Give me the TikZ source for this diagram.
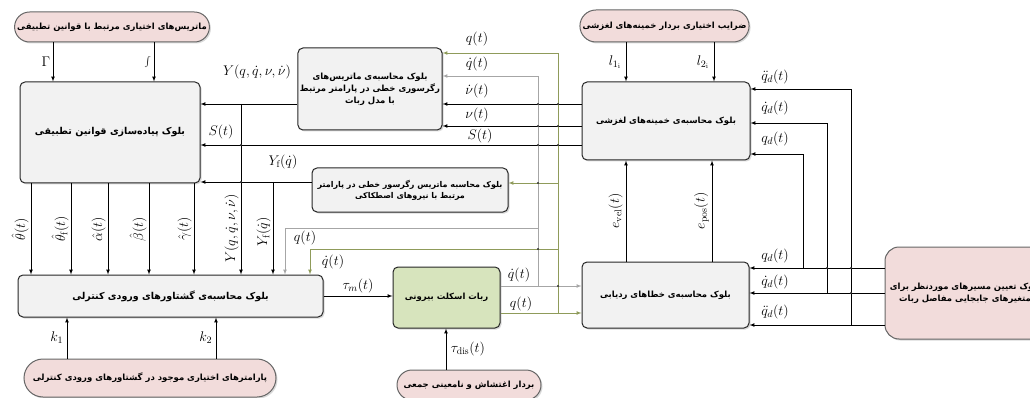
\RequirePackage{fix-cm}
\documentclass[tikz,border=0pt]{standalone}
\usepackage{fontspec}
\usepackage{xcolor}
\usepackage{tikz}
\usetikzlibrary{arrows,shapes,shadows,positioning}
\TeXXeTstate=1
\newfontfamily\fafont[Script=Arabic]{DejaVu Sans}
\newcommand{\faline}[1]{\beginR #1\endR}
\definecolor{pinkfill}{HTML}{F2DCDB}
\definecolor{grayfill}{HTML}{F2F2F2}
\definecolor{robotfill}{HTML}{D7E4BD}
\definecolor{oliveline}{RGB}{143,155,90}
\definecolor{grayline}{RGB}{166,166,166}

\begin{document}
\begin{tikzpicture}[x=1pt, y=-1pt, >=latex,
  box/.style={draw=black!85, line width=1pt, align=center, inner sep=2pt,
              font=\fafont\bfseries\fontsize{8.5}{12}\selectfont,
              drop shadow={shadow xshift=1.5pt, shadow yshift=-1.5pt, opacity=.3}},
  pill/.style={box, rounded rectangle, draw=black!60, fill=pinkfill},
  blk/.style={box, rectangle, rounded corners=5pt, fill=grayfill},
  bigtext/.style={font=\fafont\bfseries\fontsize{9.5}{12}\selectfont},
  lbl/.style={inner sep=0.5pt, font=\fontsize{14}{16}\selectfont},
  wire/.style={->, line width=0.7pt},
  hop/.style={fill=black!80}]

\useasboundingbox (0,0) rectangle (1030,398);

% inputs chosen by the designer
\node (mats) [pill, minimum width=186, minimum height=30] at (112,27)
  {\faline{ماتریس‌های اختیاری مرتبط با قوانین تطبیقی}};
\node (lpar) [pill, minimum width=167, minimum height=32] at (664.5,26)
  {\faline{ضرایب  اختیاری بردار خمینه‌های لغزشی}};
\node (kpar) [pill, minimum width=256, minimum height=38] at (150,378)
  {\faline{پارامترهای اختیاری موجود در گشتاورهای ورودی کنترلی}};
\node (dist) [pill, minimum width=148, minimum height=30] at (469,385)
  {\faline{بردار اغتشاش و نامعینی جمعی}};

% blocks
\node (adapt) [blk, bigtext, minimum width=180, minimum height=101] at (110,132.5)
  {\faline{بلوک پیاده‌سازی قوانین تطبیقی}};
\node (regr) [blk, minimum width=140, minimum height=82] at (370,89)
  {\faline{بلوک محاسبه‌ی ماتریس‌های}\\\faline{رگرسوری خطی در پارامتر مرتبط}\\\faline{با مدل ربات}};
\node (fric) [blk, font=\fafont\bfseries\fontsize{8}{11}\selectfont,
  minimum width=196, minimum height=44] at (410,190)
  {\faline{بلوک محاسبه ماتریس رگرسور خطی در پارامتر}\\\faline{مرتبط با نیروهای اصطکاکی}};
\node (ctrl) [blk, bigtext, minimum width=305, minimum height=42] at (170.5,296)
  {\faline{بلوک محاسبه‌ی گشتاورهای ورودی کنترلی}};
\node (robot) [blk, fill=robotfill, minimum width=107, minimum height=61] at (446.5,297.5)
  {\faline{ربات اسکلت بیرونی}};
\node (slide) [blk, minimum width=168, minimum height=78] at (666,121)
  {\faline{بلوک محاسبه‌ی خمینه‌های لغزشی}};
\node (track) [blk, minimum width=167, minimum height=66] at (665.5,295)
  {\faline{بلوک محاسبه‌ی خطاهای ردیابی}};
\node (traj) [blk, fill=pinkfill, draw=black!60, rounded corners=14pt,
  minimum width=160, minimum height=92] at (965,293)
  {\faline{بلوک تعیین مسیرهای موردنظر برای}\\\faline{متغیرهای جابجایی مفاصل ربات}};

% branch points
\coordinate (jY) at (241,104);
\coordinate (jYf) at (273,182);
\coordinate (jV) at (538,286);
\coordinate (jVc) at (538,228);
\coordinate (jQ) at (558,313);
\coordinate (jQc) at (558,249);
\coordinate (jQf) at (558,183);
\coordinate (jR1) at (803,268);
\coordinate (jR2) at (827,293);
\coordinate (jR3) at (851,325);

% gains of the adaptive laws
\draw [wire] (mats.south -| 53,0) -- node (lG) [lbl, left=2pt] {$\Gamma$} (adapt.north -| 53,0);
\draw [wire] (mats.south -| 154,0) -- node (lI) [lbl, left=2pt] {$\int$} (adapt.north -| 154,0);

% estimates to the control block
\foreach \x/\t in {31/{\hat{\theta}(t)}, 71/{\hat{\theta}_{\mathrm{f}}(t)}, 108/{\hat{\alpha}(t)},
                   149/{\hat{\beta}(t)}, 194/{\hat{\gamma}(t)}}
  \draw [wire] (adapt.south -| \x,0) -- node (est\x) [lbl, rotate=90, anchor=south, inner sep=2pt] {$\t$} (ctrl.north -| \x,0);

% regressors
\draw [wire] (regr.west |- jY) -- (adapt.east |- jY);
\node (lY) [lbl] at (257,72) {$Y(q,\dot{q},\nu,\dot{\nu})$};
\draw [wire] (jY) -- node (lYv) [lbl, rotate=90, anchor=south, inner sep=2pt, pos=.73] {$Y(q,\dot{q},\nu,\dot{\nu})$} (ctrl.north -| jY);
\draw [wire] (fric.west |- jYf) -- (adapt.east |- jYf);
\node (lYf) [lbl] at (283,162) {$Y_{\mathrm{f}}(\dot{q})$};
\draw [wire] (jYf) -- node (lYfv) [lbl, rotate=90, anchor=south, inner sep=2pt, pos=.54] {$Y_{\mathrm{f}}(\dot{q})$} (ctrl.north -| jYf);

% sliding variables
\draw [wire] (slide.west |- 0,145) -- (adapt.east |- 0,145);
\node (lS) [lbl] at (221,132) {$S(t)$};
\node (lS2) [lbl] at (480,136) {$S(t)$};
\draw [wire] (slide.west |- jY) -- (regr.east |- jY);
\node (lnud) [lbl] at (477,91) {$\dot{\nu}(t)$};
\draw [wire] (slide.west |- 0,126) -- (regr.east |- 0,126);
\node (lnu) [lbl] at (477,115) {$\nu(t)$};

% robot outputs
\draw [wire, grayline] (robot.east |- jV) -- (track.west |- jV);
\draw [wire, grayline] (jV) |- (regr.east |- 0,76);
\draw [wire, grayline] (jVc) -| (ctrl.north -| 285,0);
\draw [wire, oliveline] (robot.east |- jQ) -- (track.west |- jQ);
\draw [wire, oliveline] (jQ) |- (regr.east |- 0,53);
\draw [wire, oliveline] (jQf) -- (fric.east |- jQf);
\draw [wire, oliveline] (jQc) -| (ctrl.north -| 310,0);
\node (lq1) [lbl] at (477,39) {$q(t)$};
\node (lq2) [lbl] at (477,64) {$\dot{q}(t)$};
\node (lq3) [lbl] at (305,238) {$q(t)$};
\node (lq4) [lbl] at (333,262) {$\dot{q}(t)$};
\node (lq5) [lbl] at (519,275) {$\dot{q}(t)$};
\node (lq6) [lbl] at (521,304) {$q(t)$};

% control loop
\draw [wire] (ctrl.east |- 0,296) -- node (ltm) [lbl, above=2pt] {$\tau_m(t)$} (robot.west |- 0,296);
\draw [wire] (dist.north -| 446,0) -- node (ltd) [lbl, right=4pt] {$\tau_{\mathrm{dis}}(t)$} (robot.south -| 446,0);
\draw [wire] (kpar.north -| 67,0) -- node (lk1) [lbl, left=3pt] {$k_1$} (ctrl.south -| 67,0);
\draw [wire] (kpar.north -| 216,0) -- node (lk2) [lbl, left=3pt] {$k_2$} (ctrl.south -| 216,0);

% errors and sliding gains
\draw [wire] (track.north -| 626,0) -- node (lev) [lbl, rotate=90, anchor=south, inner sep=3pt] {$e_{\mathrm{vel}}(t)$} (slide.south -| 626,0);
\draw [wire] (track.north -| 712,0) -- node (lep) [lbl, rotate=90, anchor=south, inner sep=3pt] {$e_{\mathrm{pos}}(t)$} (slide.south -| 712,0);
\draw [wire] (lpar.south -| 626,0) -- node (ll1) [lbl, left=4pt] {$l_{1_{\mathrm{i}}}$} (slide.north -| 626,0);
\draw [wire] (lpar.south -| 714,0) -- node (ll2) [lbl, left=4pt] {$l_{2_{\mathrm{i}}}$} (slide.north -| 714,0);

% desired trajectories
\draw [wire] (traj.west |- jR1) -- (track.east |- jR1);
\draw [wire] (traj.west |- jR2) -- (track.east |- jR2);
\draw [wire] (traj.west |- jR3) -- (track.east |- jR3);
\draw [wire] (jR1) |- (slide.east |- 0,154);
\draw [wire] (jR2) |- (slide.east |- 0,123);
\draw [wire] (jR3) |- (slide.east |- 0,89);
\node (ld1) [lbl] at (775,77) {$\ddot{q}_d(t)$};
\node (ld2) [lbl] at (775,108) {$\dot{q}_d(t)$};
\node (ld3) [lbl] at (775,139) {$q_d(t)$};
\node (ld4) [lbl] at (775,256) {$q_d(t)$};
\node (ld5) [lbl] at (775,282) {$\dot{q}_d(t)$};
\node (ld6) [lbl] at (775,312) {$\ddot{q}_d(t)$};

% line crossings
\foreach \p in {(538,104),(558,104),(538,126),(558,126),(538,145),(558,145),(538,183),
                (538,249),(558,286),(241,145),(241,182),(827,268),(851,268),(851,293)}
  \fill [hop] \p circle (1.2);

\end{tikzpicture}
\end{document}
